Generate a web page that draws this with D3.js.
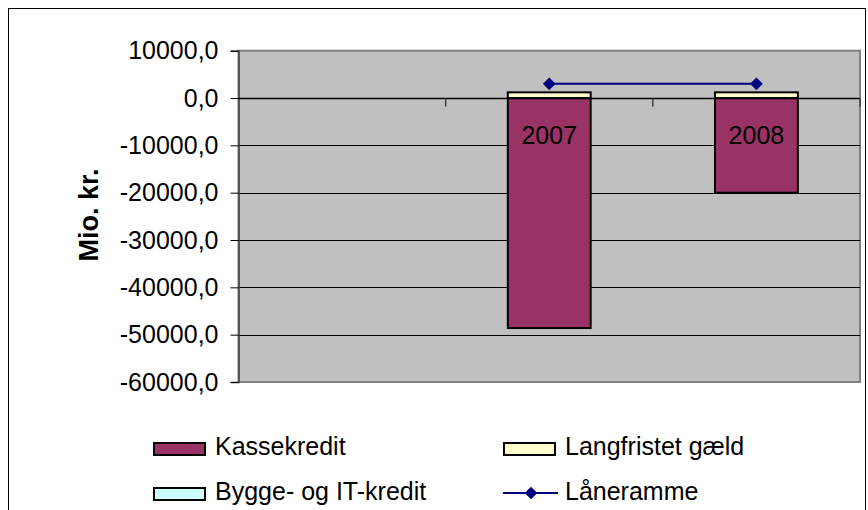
<!DOCTYPE html>
<html><head><meta charset="utf-8">
<script src="https://cdn.jsdelivr.net/npm/d3@7"></script>
<style>
html,body{margin:0;padding:0;background:#fff;}
svg{display:block;font-family:"Liberation Sans",Arial,sans-serif;}
</style></head>
<body>
<svg id="chart" width="868" height="510"></svg>
<script>
const categories = ["", "2007", "2008"];
const kassekredit = [null, -48600, -20000];
const langfristet = [null, 1200, 1200];
const byggeIT = [null, 0, 0];
const laaneramme = [null, 3000, 3000];
const yTicks = [10000, 0, -10000, -20000, -30000, -40000, -50000, -60000];
const legendItems = ["Kassekredit", "Langfristet gæld", "Bygge- og IT-kredit", "Låneramme"];

const colors = {kasse:"#993366", lang:"#FFFFCC", bygge:"#CCFFFF", laan:"#000080"};

const svg = d3.select("#chart");
// outer chart border
svg.append("rect").attr("x",8.5).attr("y",8.5).attr("width",857).attr("height",520)
  .attr("fill","#fff").attr("stroke","#000").attr("stroke-width",1);

const plot = {left:238.5, right:860, top:50.7, bottom:382};
const y = d3.scaleLinear().domain([-60000, 10000]).range([plot.bottom, plot.top]);
const band = (plot.right-plot.left)/categories.length;
const cx = i => plot.left + band*(i+0.5);
const bw = band/2.5;

// plot area
svg.append("rect").attr("x",plot.left).attr("y",plot.top).attr("width",plot.right-plot.left).attr("height",plot.bottom-plot.top)
  .attr("fill","#C0C0C0").attr("stroke","#808080").attr("stroke-width",2);

// gridlines
svg.append("g").selectAll("line").data(yTicks.filter(t=>t!==0 && t!==10000 && t!==-60000)).join("line")
  .attr("x1",plot.left).attr("x2",plot.right).attr("y1",d=>Math.round(y(d))+0.5).attr("y2",d=>Math.round(y(d))+0.5)
  .attr("stroke","#000").attr("stroke-width",1);

// y axis
const yAxis = d3.axisLeft(y).tickValues(yTicks).tickSize(8).tickPadding(12)
  .tickFormat(d => d3.format(".1f")(d).replace(".", ",").replace("\u2212", "-"));
const ga = svg.append("g").attr("transform",`translate(${plot.left},0)`).call(yAxis);
ga.select(".domain").attr("stroke","#404040").attr("stroke-width",1.5);
ga.selectAll(".tick line").attr("stroke","#000");
ga.selectAll(".tick text").attr("font-size",25).attr("fill","#000").attr("font-family","Liberation Sans, Arial, sans-serif");

// bars
const g = svg.append("g");
categories.forEach((c,i)=>{
  if (kassekredit[i]==null) return;
  const x0 = cx(i)-bw/2;
  g.append("rect").attr("x",x0).attr("y",y(0)).attr("width",bw).attr("height",y(kassekredit[i])-y(0))
    .attr("fill",colors.kasse).attr("stroke","#000").attr("stroke-width",2);
  let base = 0;
  [[langfristet[i],colors.lang],[byggeIT[i],colors.bygge]].forEach(([v,col])=>{
    if (!v) return;
    g.append("rect").attr("x",x0).attr("y",y(base+v)).attr("width",bw).attr("height",y(base)-y(base+v))
      .attr("fill",col).attr("stroke","#000").attr("stroke-width",2);
    base += v;
  });
});

// category axis at zero
const y0 = Math.round(y(0))+0.5;
svg.append("line").attr("x1",plot.left).attr("x2",plot.right).attr("y1",y0).attr("y2",y0).attr("stroke","#000").attr("stroke-width",1.5);
d3.range(1, categories.length+1).forEach(k=>{
  const xx = plot.left + band*k;
  svg.append("line").attr("x1",xx).attr("x2",xx).attr("y1",y0).attr("y2",y0+8).attr("stroke","#404040").attr("stroke-width",1.5);
});
svg.append("g").selectAll("text").data(categories).join("text")
  .attr("x",(d,i)=>cx(i)).attr("y",y0+45.5).attr("text-anchor","middle").attr("font-size",25).attr("fill","#000").text(d=>d);

// line series
const pts = laaneramme.map((v,i)=>({v,i})).filter(d=>d.v!=null);
svg.append("path").datum(pts).attr("fill","none").attr("stroke",colors.laan).attr("stroke-width",2)
  .attr("d", d3.line().x(d=>cx(d.i)).y(d=>y(d.v)));
svg.append("g").selectAll("path").data(pts).join("path")
  .attr("d",d3.symbol().type(d3.symbolSquare).size(81))
  .attr("transform",d=>`translate(${cx(d.i)},${y(d.v)}) rotate(45)`).attr("fill",colors.laan);

// y title
svg.append("text").attr("transform","translate(98,215) rotate(-90)").attr("text-anchor","middle")
  .attr("font-size",27).attr("font-weight","bold").attr("fill","#000").text("Mio. kr.");

// legend
const leg = [
  {t:legendItems[0], type:"rect", col:colors.kasse, x:153, y:455},
  {t:legendItems[1], type:"rect", col:colors.lang, x:503, y:455},
  {t:legendItems[2], type:"rect", col:colors.bygge, x:153, y:500},
  {t:legendItems[3], type:"line", col:colors.laan, x:503, y:500}
];
const lg = svg.append("g");
leg.forEach(d=>{
  if (d.type==="rect") {
    lg.append("rect").attr("x",d.x+1).attr("y",d.y-12).attr("width",51).attr("height",12)
      .attr("fill",d.col).attr("stroke","#000").attr("stroke-width",2);
  } else {
    lg.append("line").attr("x1",d.x).attr("x2",d.x+55).attr("y1",d.y-7).attr("y2",d.y-7).attr("stroke",d.col).attr("stroke-width",2);
    lg.append("path").attr("d",d3.symbol().type(d3.symbolSquare).size(81)).attr("transform",`translate(${d.x+28},${d.y-7}) rotate(45)`).attr("fill",d.col);
  }
  lg.append("text").attr("x",d.x+62).attr("y",d.y).attr("font-size",25).attr("fill","#000").text(d.t);
});
</script>
</body></html>
